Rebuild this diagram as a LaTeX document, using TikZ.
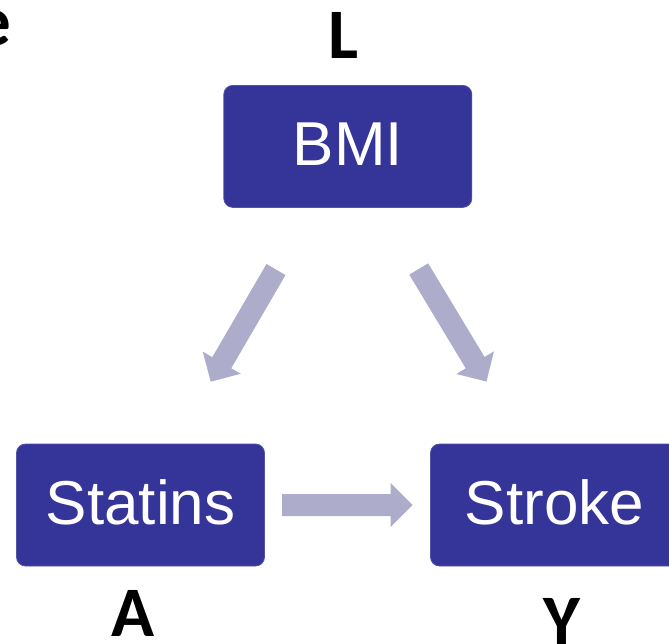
\documentclass[tikz,border=0pt]{standalone}
\usepackage{fontspec}
\setmainfont{Liberation Sans}
\newfontfamily\lblfont{Carlito}
\usetikzlibrary{calc}
\definecolor{boxblue}{RGB}{53,52,152}
\definecolor{arrowgrey}{RGB}{173,173,203}
\tikzset{
  varbox/.style={draw=boxblue!85!white, line width=0.8pt, fill=boxblue, rounded corners=9pt,
    minimum width=248pt, minimum height=122pt, inner sep=0pt, text=white,
    font=\fontsize{62}{62}\selectfont, text height=45pt, text depth=6pt},
  varlabel/.style={inner sep=0pt, anchor=base, font=\lblfont\bfseries\fontsize{71}{71}\selectfont},
  fatarrow/.style={fill=arrowgrey, draw=none}
}
% block arrow from #1 (middle of tail) to #2 (tip)
\newcommand\blockarrow[2]{%
  \coordinate (hb) at ($(#2)!22pt!(#1)$);
  \fill[fatarrow]
    ($(#1)!11pt!90:(#2)$) -- ($(hb)!11pt!-90:(#1)$) -- ($(hb)!22pt!-90:(#1)$) --
    (#2) -- ($(hb)!22pt!90:(#1)$) -- ($(hb)!11pt!90:(#1)$) --
    ($(#1)!11pt!-90:(#2)$) -- cycle;}
\begin{document}
\begin{tikzpicture}[x=1pt,y=-1pt]
  \useasboundingbox (0,0) rectangle (669,643);
  \clip (0,0) rectangle (669,643);

  \node[varbox] (bmi) at (347.8,146.4) {BMI};
  \node[varbox] (statins) at (140.5,505) {Statins};
  \node[varbox] (stroke) at (554.5,505) {Stroke};

  \node[varlabel] (lL) at (344,58.3) {L};
  \node[varlabel] (lA) at (133,636.7) {A};
  \node[varlabel] (lY) at (561.5,644) {Y};
  \node[varlabel, anchor=base east] (le) at (11.5,45) {e};

  \coordinate (la) at (276,269.5);
  \coordinate (lt) at (210.7,381.7);
  \coordinate (ra) at (418.7,269);
  \coordinate (rt) at (486.5,381.5);
  \coordinate (ha) at (282,505);
  \coordinate (ht) at (412.7,505);
  \blockarrow{la}{lt}
  \blockarrow{ra}{rt}
  \blockarrow{ha}{ht}
\end{tikzpicture}
\end{document}
